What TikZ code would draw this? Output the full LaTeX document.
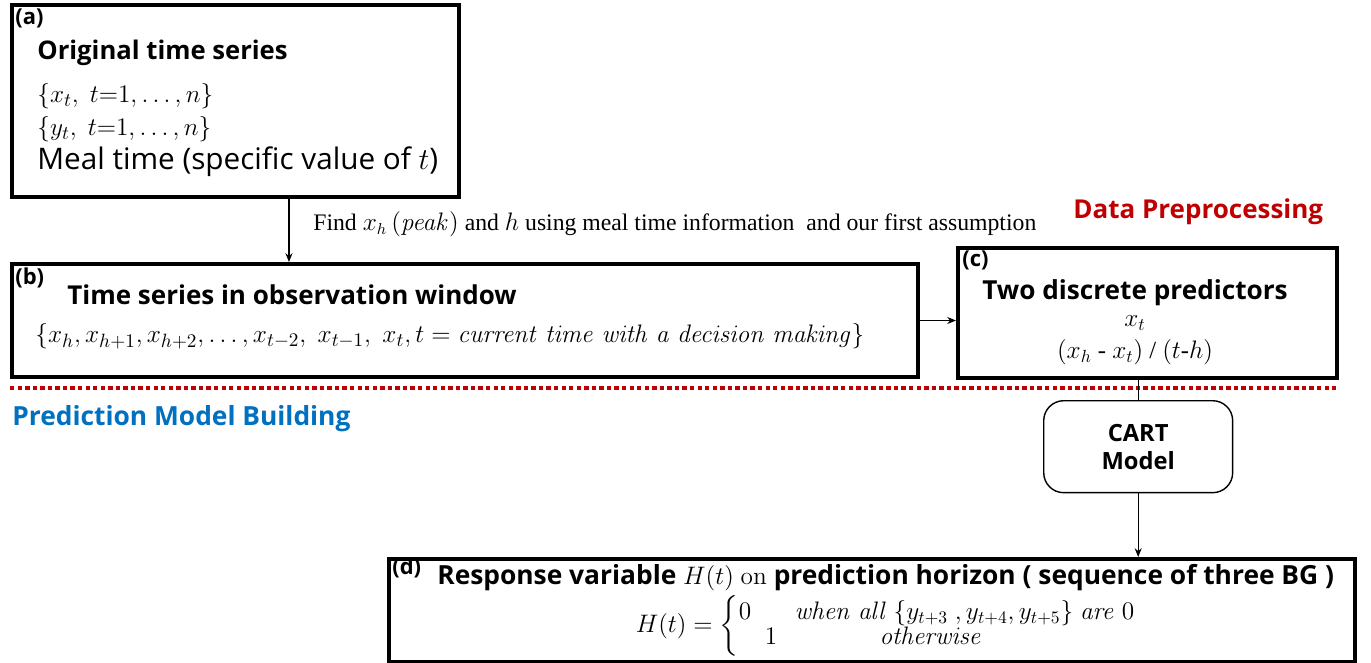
\documentclass[tikz,border=0pt]{standalone}
\usepackage{amsmath}
\usepackage[no-math]{fontspec}
\setmainfont{Open Sans}
\newfontfamily\findfont{Liberation Serif}
\usetikzlibrary{positioning,arrows.meta}
\definecolor{prepred}{RGB}{192,0,0}
\definecolor{modelblue}{RGB}{0,112,192}
\begin{document}
\begin{tikzpicture}[x=0.02cm,y=-0.02cm,>={Stealth[length=5pt,width=4pt]},
  bigbox/.style={draw,line width=2.3pt,anchor=north west,inner sep=0pt},
  tag/.style={anchor=mid west,inner sep=0pt,font=\fontsize{12.5}{14}\selectfont\bfseries},
  txt/.style={anchor=mid west,inner sep=0pt},
  link/.style={line width=0.7pt}]
\useasboundingbox (0,0) rectangle (1371,662);
\node [bigbox,minimum width=8.94cm,minimum height=3.84cm] (boxa) at (10,3) {};
\node [bigbox,minimum width=18.12cm,minimum height=2.26cm] (boxb) at (10,262) {};
\node [bigbox,minimum width=7.58cm,minimum height=2.6cm] (boxc) at (956,246) {};
\node [draw,line width=0.8pt,rounded corners=0.4cm,anchor=north west,minimum width=3.78cm,minimum height=1.84cm,
  align=center,font=\fontsize{13.5}{16}\selectfont\bfseries] (cart) at (1043,400) {CART\\Model};
\node [bigbox,minimum width=19.32cm,minimum height=2.06cm] (boxd) at (387,557) {};
\node [tag] (taga) at (15,20) {(a)};
\node [txt,font=\fontsize{14.6}{16}\selectfont\bfseries] (titlea) at (37,55) {Original time series};
\node [txt,font=\fontsize{15}{17}\selectfont] (xser) at (37,98) {$\{x_t,\ t{=}1,\ldots,n\}$};
\node [txt,font=\fontsize{15}{17}\selectfont] (yser) at (37,131) {$\{y_t,\ t{=}1,\ldots,n\}$};
\node [txt,font=\fontsize{16.9}{18}\selectfont] (meal) at (37,165) {Meal time (specific value of $t$)};
\node [txt,font=\findfont\fontsize{13.5}{15}\selectfont] (find) at (313,226)
  {Find $x_h\,(\mathit{peak})$ and $h$ using meal time information\ \ and our first assumption};
\node [txt,font=\fontsize{14.8}{17}\selectfont\bfseries,text=prepred] (prep) at (1073,214) {Data Preprocessing};
\node [tag] (tagb) at (15,280) {(b)};
\node [txt,font=\fontsize{14.8}{17}\selectfont\bfseries] (titleb) at (67,300) {Time series in observation window};
\node [txt,font=\fontsize{15.7}{17}\selectfont] (window) at (35,338)
  {$\{x_h, x_{h+1}, x_{h+2}, \ldots, x_{t-2},\ x_{t-1},\ x_t, t = \mathit{current\ time\ with\ a\ decision\ making}\}$};
\node [tag] (tagc) at (962,262) {(c)};
\node [font=\fontsize{14.9}{17}\selectfont\bfseries,inner sep=0pt] (titlec) at (1135,293) {Two discrete predictors};
\node [font=\fontsize{14}{16}\selectfont,inner sep=0pt] (pred1) at (1135,323) {$x_t$};
\node [font=\findfont\fontsize{14}{16}\selectfont,inner sep=0pt] (pred2) at (1135,352) {$(x_h$ - $x_t)$ / $(t$-$h)$};
\draw [line width=2.5pt,prepred,dash pattern=on 2.5pt off 1.8pt] (10,388) -- (1336,388);
\node [txt,font=\fontsize{15}{17}\selectfont\bfseries,text=modelblue] (build) at (12,421) {Prediction Model Building};
\node [tag] (tagd) at (392,570) {(d)};
\node [txt,font=\fontsize{15}{17}\selectfont\bfseries] (titled) at (437,580)
  {Response variable $H(t)$ $\mathrm{on}$ prediction horizon ( sequence of three BG )};
\node [font=\fontsize{14.8}{16}\selectfont,inner sep=0pt] (resp) at (885,626)
  {\renewcommand{\arraystretch}{0.85}$H(t) = \biggl\{\begin{array}{@{}ll@{}} 0 & \mathit{when\ all}\ \{y_{t+3}\ ,y_{t+4}, y_{t+5}\}\ \mathit{are}\ 0\\
   \quad 1 & \qquad\quad\ \mathit{otherwise}\end{array}$};
\draw [->,link] ([xshift=1.07cm]boxa.south) -- ([xshift=1.07cm]boxa.south |- boxb.north);
\draw [->,link] (boxb.east) -- (boxb.east -| boxc.west);
\draw [link] (cart.north |- boxc.south) -- (cart.north);
\draw [->,link] (cart.south) -- (cart.south |- boxd.north);
\end{tikzpicture}
\end{document}
